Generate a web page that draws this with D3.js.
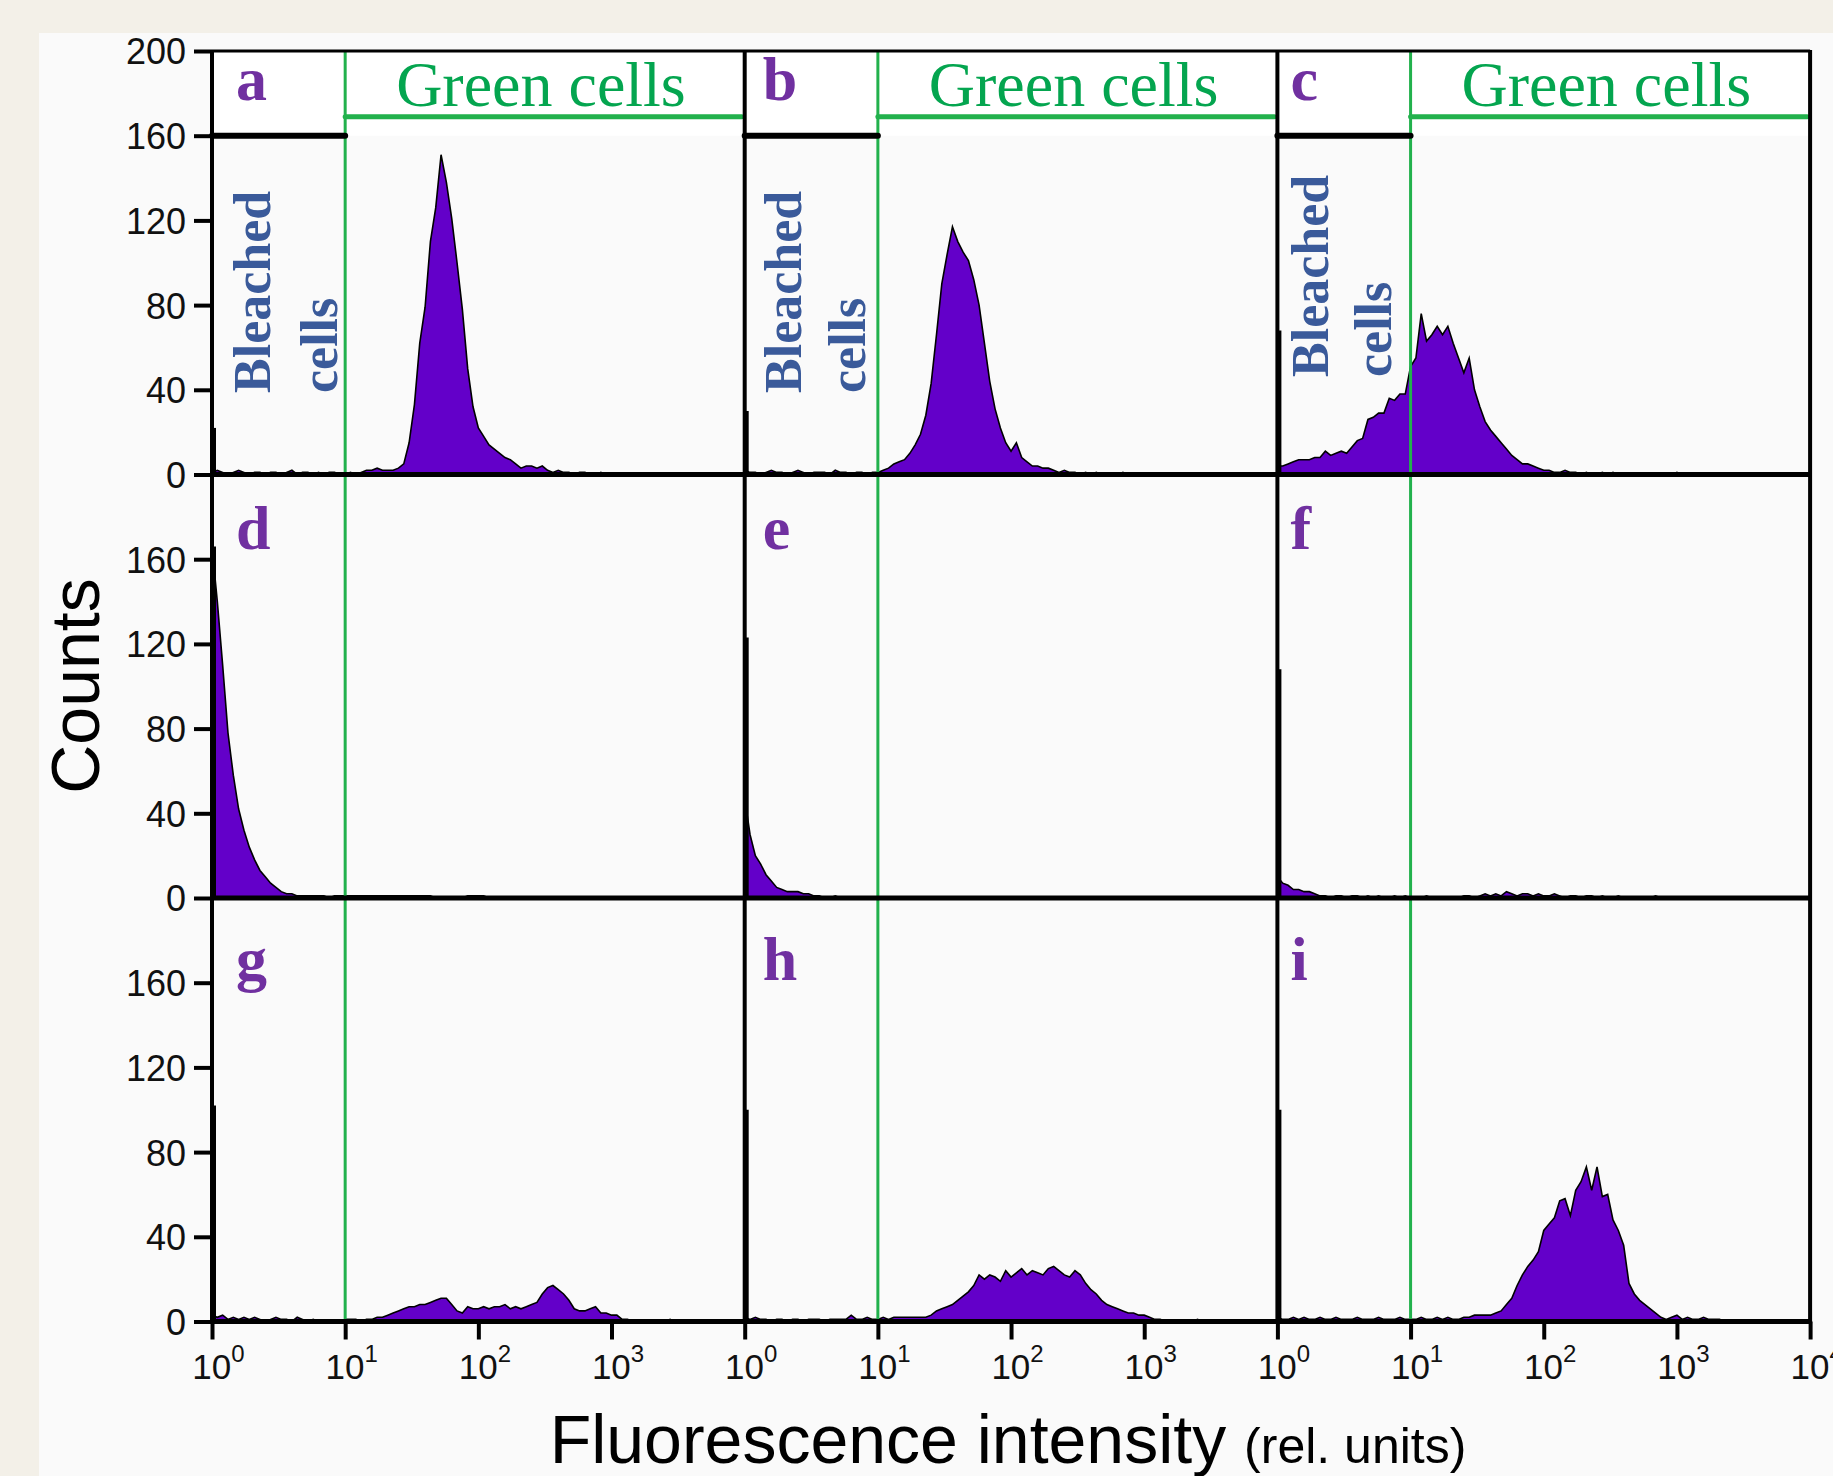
<!DOCTYPE html>
<html>
<head>
<meta charset="utf-8">
<script src="https://cdn.jsdelivr.net/npm/d3@7/dist/d3.min.js"></script>
<style>
  body { margin: 0; background: #f3f0e8; }
  svg { display: block; }
</style>
</head>
<body>
<svg id="chart" width="1833" height="1476"></svg>
<script>
// Flow cytometry histograms, 3 x 3 panels, log fluorescence axis
const panelLetters = ["a", "b", "c", "d", "e", "f", "g", "h", "i"];
const yTicksTop = [0, 40, 80, 120, 160, 200];
const yTicksOther = [0, 40, 80, 120, 160];
const xTicks = [1, 10, 100, 1000];
const xTicksLast = [1, 10, 100, 1000, 10000];
const gateValue = 10;        // green gate at 10^1
const bleachedLevel = 160;   // black bar over bleached region
const greenLevel = 169;      // green bar over green region
const binsPerDecade = 25;

// counts per log bin, 25 bins per decade from 10^0 to 10^4
const countsA = [
  1,2,1,0,1, 2,1,0,1,1, 0,1,1,0,1, 2,0,1,1,0, 1,0,1,1,0,
  0,1,0,1,2, 2,3,2,2,2, 3,5,15,33,62, 79,110,126,151,138, 121,100,78,50,32,
  22,18,14,12,10, 8,7,5,3,4, 4,3,4,2,1, 2,1,1,0,1, 1,0,0,1,0,
  0,0,0,0,0, 0,0,0,0,0, 0,0,0,0,0, 0,0,0,0,0, 0,0,0,0,0
];
const countsB = [
  2,1,1,0,1, 2,1,1,0,1, 2,1,0,1,1, 1,0,2,1,1, 0,1,1,0,1,
  1,2,3,5,6, 7,10,14,19,28, 43,66,90,104,117, 110,105,101,92,80, 62,44,31,22,15,
  11,15,8,6,4, 4,3,3,2,1, 2,1,1,0,1, 0,1,0,0,0, 0,1,0,0,0,
  0,0,0,0,0, 0,0,0,0,0, 0,0,0,0,0, 0,0,0,0,0, 0,0,0,0,0
];
const countsC = [
  4,4,5,6,7, 7,7,8,8,11, 9,10,11,10,13, 16,17,26,27,29, 29,36,35,38,38,
  51,55,76,63,66, 70,66,70,62,55, 48,55,40,32,25, 21,18,15,12,9, 7,5,5,4,3,
  2,2,1,1,2, 1,1,0,1,0, 0,1,0,1,0, 0,0,0,0,0, 0,0,0,0,0,
  1,0,0,0,0, 0,0,0,0,0, 0,0,0,0,0, 0,0,0,0,0, 0,0,0,0,0
];
const countsD = [
  166,140,110,78,58, 42,32,24,18,13, 10,7,5,3,2, 2,1,1,1,1, 1,1,0,1,1,
  1,1,1,1,1, 1,1,1,1,1, 1,1,1,1,1, 1,1,0,0,0, 0,0,0,1,1,
  1,1,0,0,0, 0,0,0,0,0, 0,0,0,0,0, 0,0,0,0,0, 0,0,0,0,0,
  0,0,0,0,0, 0,0,0,0,0, 0,0,0,0,0, 0,0,0,0,0, 0,0,0,0,0
];
const countsE = [
  47,30,20,16,11, 8,5,4,3,3, 3,2,2,1,1, 0,0,1,0,0, 0,0,0,0,0,
  0,0,0,0,0, 0,0,0,0,0, 0,0,0,0,0, 0,0,0,0,0, 0,0,0,0,0,
  0,0,0,0,0, 0,0,0,0,0, 0,0,0,0,0, 0,0,0,0,0, 0,0,0,0,0,
  0,0,0,0,0, 0,0,0,0,0, 0,0,0,0,0, 0,0,0,0,0, 0,0,0,0,0
];
const countsF = [
  10,7,6,4,4, 3,3,2,1,1, 0,1,1,0,1, 1,0,1,0,1, 0,0,1,0,1,
  0,0,0,1,0, 0,0,0,0,0, 1,1,0,1,2, 1,2,1,3,2, 1,2,2,1,2,
  1,1,2,1,0, 1,1,0,1,1, 0,1,0,0,1, 0,0,0,0,0, 0,1,0,0,0,
  0,0,0,0,0, 0,0,0,0,0, 0,0,0,0,0, 0,0,0,0,0, 0,0,0,0,0
];
const countsG = [
  3,2,3,1,2, 1,2,1,2,1, 0,1,2,1,1, 0,2,1,0,1, 0,0,0,0,0,
  1,1,1,0,1, 1,2,2,3,4, 5,6,7,7,8, 8,9,10,11,11, 8,5,4,7,6,
  6,7,6,7,7, 8,6,7,6,7, 8,9,13,16,17, 15,13,10,6,5, 5,6,7,4,4,
  3,3,1,1,0, 0,0,0,0,0, 0,1,0,0,0, 0,0,0,0,0, 0,0,0,0,0
];
const countsH = [
  2,1,2,1,1, 0,1,1,0,1, 1,0,1,1,1, 0,1,1,1,1, 3,1,1,2,1,
  1,2,1,2,2, 2,2,2,2,2, 3,5,6,7,8, 10,12,14,17,22, 20,22,21,19,24,
  21,23,25,22,24, 23,22,25,26,24, 22,21,24,22,18, 15,13,10,8,7, 6,5,4,4,3,
  3,2,1,1,0, 0,0,0,0,0, 1,0,0,0,0, 0,0,0,0,0, 0,0,0,0,0
];
const countsI = [
  2,1,1,2,1, 2,1,1,2,1, 1,2,1,1,1, 2,1,1,1,2, 1,1,1,2,1,
  1,1,2,1,1, 2,1,2,1,1, 2,2,3,3,3, 3,4,5,8,11, 17,22,26,29,33,
  43,46,49,57,58, 50,62,66,73,62, 73,59,60,48,43, 36,18,13,10,8, 6,4,2,1,2,
  3,1,2,1,1, 2,1,1,1,0, 0,0,0,0,0, 0,0,0,0,0, 0,0,0,0,0
];
// spike in the very first channel (10^0) of each panel
const firstChannel = [22, 30, 68, 166, 123, 108, 102, 100, 100];

const allCounts = [countsA, countsB, countsC, countsD, countsE, countsF, countsG, countsH, countsI];

// layout
const W = 1833, H = 1476;
const plotLeft = 212, plotTop = 51, colW = 532.7, rowH = 423.5;
const plotRight = plotLeft + 3 * colW;
const plotBottom = plotTop + 3 * rowH;
const letterDx = [24, 18, 13];
const letterY = [100, 549, 980];
const bleachedPos = [
  { b: 58, c: 125, y: 393 },
  { b: 56, c: 120, y: 393 },
  { b: 51, c: 114, y: 377 }
];

const sans = "'Liberation Sans', Arial, sans-serif";
const serif = "'Liberation Serif', 'Times New Roman', serif";
const purpleFill = "#6300c9";
const gateGreen = "#22b14c";

const svg = d3.select("#chart");

svg.append("rect").attr("width", W).attr("height", H).attr("fill", "#f3f0e8");
svg.append("rect").attr("x", 39).attr("y", 33)
  .attr("width", W - 39).attr("height", H - 33).attr("fill", "#fafafa");

function xScale(col) {
  return d3.scaleLog().domain([1, 1e4])
    .range([plotLeft + col * colW, plotLeft + (col + 1) * colW]);
}
function yScale(row) {
  return d3.scaleLinear().domain([0, 200])
    .range([plotTop + (row + 1) * rowH, plotTop + row * rowH]);
}

// white header strip above the 160 line in the top row
svg.append("rect").attr("x", plotLeft).attr("y", plotTop)
  .attr("width", plotRight - plotLeft).attr("height", yScale(0)(160) - plotTop)
  .attr("fill", "#ffffff");

// histograms
allCounts.forEach((counts, k) => {
  const col = k % 3, row = Math.floor(k / 3);
  const x = xScale(col), y = yScale(row);
  const pts = counts.map((c, i) => [Math.pow(10, i / binsPerDecade), c]);
  const g = svg.append("g").attr("class", "hist");

  g.append("path").datum(pts)
    .attr("d", d3.area().x(d => x(d[0])).y0(y(0)).y1(d => y(d[1])))
    .attr("fill", purpleFill);
  g.append("path").datum(pts)
    .attr("d", d3.line().x(d => x(d[0])).y(d => y(d[1])))
    .attr("fill", "none").attr("stroke", "#000").attr("stroke-width", 1.6)
    .attr("stroke-linejoin", "miter");

  g.append("line")
    .attr("x1", x(1) + 2).attr("x2", x(1) + 2)
    .attr("y1", y(0)).attr("y2", y(firstChannel[k]))
    .attr("stroke", "#000").attr("stroke-width", 4);
});

// green gate lines at 10^1
[0, 1, 2].forEach(col => {
  const x = xScale(col);
  svg.append("line")
    .attr("x1", x(gateValue)).attr("x2", x(gateValue))
    .attr("y1", plotTop).attr("y2", plotBottom)
    .attr("stroke", gateGreen).attr("stroke-width", 3);
});

// header bars in the top row
[0, 1, 2].forEach(col => {
  const x = xScale(col), y = yScale(0);
  svg.append("line")
    .attr("x1", x(1)).attr("x2", x(gateValue))
    .attr("y1", y(bleachedLevel)).attr("y2", y(bleachedLevel))
    .attr("stroke", "#000").attr("stroke-width", 6).attr("stroke-linecap", "round");
  svg.append("line")
    .attr("x1", x(gateValue)).attr("x2", x(1e4) - 3)
    .attr("y1", y(greenLevel)).attr("y2", y(greenLevel))
    .attr("stroke", gateGreen).attr("stroke-width", 5).attr("stroke-linecap", "round");
});

// frame
svg.append("line").attr("x1", plotLeft).attr("x2", plotRight)
  .attr("y1", plotTop).attr("y2", plotTop)
  .attr("stroke", "#000").attr("stroke-width", 3);
[0, 1, 2].forEach(row => {
  const y0 = yScale(row)(0);
  svg.append("line").attr("x1", plotLeft).attr("x2", plotRight)
    .attr("y1", y0).attr("y2", y0)
    .attr("stroke", "#000").attr("stroke-width", 5);
});
[0, 1, 2, 3].forEach(c => {
  const xv = plotLeft + c * colW;
  svg.append("line").attr("x1", xv).attr("x2", xv)
    .attr("y1", plotTop - 1).attr("y2", plotBottom + 2)
    .attr("stroke", "#000").attr("stroke-width", 4);
});

// y axes
[0, 1, 2].forEach(row => {
  const ax = svg.append("g")
    .attr("transform", `translate(${plotLeft},0)`)
    .call(d3.axisLeft(yScale(row))
      .tickValues(row === 0 ? yTicksTop : yTicksOther)
      .tickSize(18).tickPadding(8));
  ax.select(".domain").remove();
  ax.selectAll(".tick line").attr("stroke", "#000").attr("stroke-width", 4);
  ax.selectAll(".tick text")
    .attr("fill", "#111").style("font-family", sans).style("font-size", "36px")
    .attr("dy", "0.36em");
});

// x axes on the bottom row
[0, 1, 2].forEach(col => {
  const x = xScale(col);
  const ax = svg.append("g")
    .attr("transform", `translate(0,${yScale(2)(0)})`)
    .call(d3.axisBottom(x)
      .tickValues(col === 2 ? xTicksLast : xTicks)
      .tickSize(18).tickFormat(() => ""));
  ax.select(".domain").remove();
  ax.selectAll(".tick line").attr("stroke", "#000").attr("stroke-width", 4);
  ax.selectAll(".tick text").remove();
  const lab = ax.selectAll(".tick").append("text")
    .attr("x", 6).attr("y", 57)
    .attr("text-anchor", "middle").attr("fill", "#111")
    .style("font-family", sans);
  lab.append("tspan").style("font-size", "35px").text("10");
  lab.append("tspan").style("font-size", "24px").attr("dy", -17)
    .text(d => Math.round(Math.log10(d)));
});

// panel letters
panelLetters.forEach((L, k) => {
  const col = k % 3, row = Math.floor(k / 3);
  svg.append("text")
    .attr("x", plotLeft + col * colW + letterDx[col]).attr("y", letterY[row])
    .attr("fill", "#7030a0")
    .style("font-family", serif).style("font-weight", "bold").style("font-size", "62px")
    .text(L);
});

// gate labels in the top row
[0, 1, 2].forEach(col => {
  const x = xScale(col);
  const left = plotLeft + col * colW;
  svg.append("text")
    .attr("x", (x(gateValue) + x(1e4)) / 2 - 4).attr("y", 106)
    .attr("text-anchor", "middle").attr("fill", "#04a54f")
    .style("font-family", serif).style("font-size", "64px")
    .text("Green cells");
  const p = bleachedPos[col];
  [["Bleached", p.b], ["cells", p.c]].forEach(([t, dx]) => {
    svg.append("text")
      .attr("transform", `translate(${left + dx},${p.y}) rotate(-90)`)
      .attr("fill", "#3a5a9a")
      .style("font-family", serif).style("font-weight", "bold").style("font-size", "52px")
      .text(t);
  });
});

// axis titles
svg.append("text")
  .attr("transform", "translate(99,686) rotate(-90)")
  .attr("text-anchor", "middle").attr("fill", "#000")
  .style("font-family", sans).style("font-size", "68px")
  .text("Counts");

const xt = svg.append("text")
  .attr("x", 1008).attr("y", 1463)
  .attr("text-anchor", "middle").attr("fill", "#000")
  .style("font-family", sans);
xt.append("tspan").style("font-size", "68px").text("Fluorescence intensity");
xt.append("tspan").style("font-size", "50px").attr("dx", 4).text(" (rel. units)");
</script>
</body>
</html>
